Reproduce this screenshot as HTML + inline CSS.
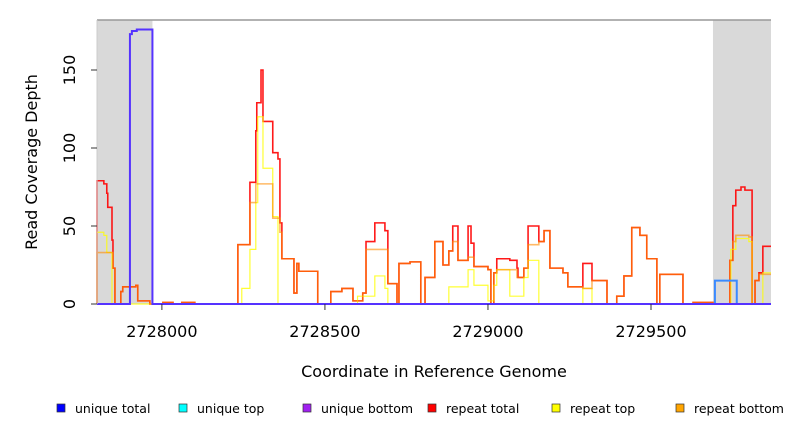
<!DOCTYPE html>
<html><head><meta charset="utf-8"><style>
body{margin:0;background:#fff;font-family:"DejaVu Sans","Liberation Sans",sans-serif;}
svg{display:block}
</style></head><body>
<svg id="chart" width="792" height="432">
<g id="bg"></g>
<g id="series"></g>
<g id="axes"></g>
<text x="37" y="162" font-size="16" text-anchor="middle" transform="rotate(-90 37 162)">Read Coverage Depth</text>
<text x="434" y="377" font-size="16" text-anchor="middle">Coordinate in Reference Genome</text>
<g id="legend"></g>
</svg>
<script>
const xTicks=[2728000,2728500,2729000,2729500];
const yTicks=[0,50,100,150];
const shadedRegions=[[2727801,2727971],[2729690,2729868]];
const repeatTotal=[[2727801,79],[2727822,77],[2727831,71],[2727834,62],[2727847,41],[2727850,23],[2727856,0],[2727874,8],[2727880,11],[2727920,12],[2727926,2],[2727963,0],[2728003,1],[2728034,0],[2728061,1],[2728101,0],[2728233,38],[2728270,78],[2728288,111],[2728291,129],[2728304,150],[2728310,117],[2728340,97],[2728356,93],[2728362,52],[2728368,29],[2728405,7],[2728414,26],[2728420,21],[2728478,0],[2728518,8],[2728552,10],[2728586,2],[2728616,7],[2728626,40],[2728653,52],[2728684,47],[2728693,13],[2728721,0],[2728727,26],[2728761,27],[2728794,0],[2728807,17],[2728837,40],[2728862,25],[2728880,34],[2728892,50],[2728908,28],[2728939,50],[2728948,39],[2728957,24],[2729000,22],[2729009,0],[2729018,20],[2729027,29],[2729067,28],[2729089,23],[2729092,17],[2729110,23],[2729123,50],[2729156,40],[2729172,47],[2729190,23],[2729230,20],[2729245,11],[2729291,26],[2729319,15],[2729365,0],[2729395,5],[2729417,18],[2729441,49],[2729466,44],[2729487,29],[2729518,0],[2729527,19],[2729598,0],[2729629,1],[2729690,0],[2729742,28],[2729751,63],[2729760,73],[2729776,75],[2729788,73],[2729810,0],[2729819,15],[2729831,20],[2729843,37],[2729868,37]];
const repeatBottom=[[2727801,33],[2727850,23],[2727856,0],[2727874,8],[2727880,11],[2727920,12],[2727926,2],[2727963,0],[2728003,1],[2728034,0],[2728061,1],[2728101,0],[2728233,38],[2728250,38],[2728270,65],[2728288,77],[2728310,77],[2728340,55],[2728362,46],[2728368,29],[2728405,7],[2728414,26],[2728420,21],[2728478,0],[2728518,8],[2728552,10],[2728586,2],[2728616,7],[2728626,35],[2728684,35],[2728693,13],[2728721,0],[2728727,26],[2728761,27],[2728794,0],[2728807,17],[2728837,40],[2728862,25],[2728880,34],[2728892,40],[2728908,28],[2728939,30],[2728957,24],[2729000,22],[2729009,0],[2729018,20],[2729027,22],[2729067,22],[2729089,17],[2729110,23],[2729123,38],[2729156,40],[2729172,47],[2729190,23],[2729230,20],[2729245,11],[2729291,10],[2729319,15],[2729365,0],[2729395,5],[2729417,18],[2729441,49],[2729466,44],[2729487,29],[2729518,0],[2729527,19],[2729598,0],[2729629,1],[2729690,0],[2729742,28],[2729751,40],[2729760,44],[2729800,43],[2729810,0],[2729819,15],[2729831,19],[2729868,19]];
const repeatTop=[[2727801,46],[2727822,44],[2727831,33],[2727847,0],[2728245,10],[2728270,35],[2728288,65],[2728294,120],[2728310,87],[2728340,56],[2728356,0],[2728600,5],[2728653,18],[2728684,10],[2728693,0],[2728880,11],[2728939,22],[2728957,12],[2729000,2],[2729018,12],[2729027,22],[2729067,5],[2729110,17],[2729123,28],[2729156,0],[2729291,10],[2729319,0],[2729745,35],[2729760,42],[2729800,40],[2729810,0],[2729843,20],[2729868,20]];
const uniqueTotal=[[2727801,0],[2727902,173],[2727908,175],[2727923,176],[2727971,0],[2729868,0]];
const uniqueBottom=[[2729696,15],[2729763,0]];
const legendLabels=["unique total","unique top","unique bottom","repeat total","repeat top","repeat bottom"];
const legendColors=["#0000ff","#00ffff","#a020f0","#ff0000","#ffff00","#ffa500"];

const NS="http://www.w3.org/2000/svg";
const L=97,R=771,T=20,B=304,xmin=2727801,xmax=2729868;
const X=v=>L+(v-xmin)/(xmax-xmin)*(R-L);
const Y=v=>B-v*1.56;
function mk(tag,attrs,parent){const e=document.createElementNS(NS,tag);for(const k in attrs)e.setAttribute(k,attrs[k]);parent.appendChild(e);return e;}
const bg=document.getElementById('bg'),ser=document.getElementById('series'),ax=document.getElementById('axes'),lg=document.getElementById('legend');
mk('rect',{x:L,y:T,width:R-L,height:B-T,fill:'#fff'},bg);
shadedRegions.forEach(r=>{const e=mk('rect',{x:X(r[0]),y:T,width:X(r[1])-X(r[0]),height:B-T,fill:'#d9d9d9'},bg);

});
function step(data,color,w,op,name){let d='';data.forEach((p,i)=>{const x=X(p[0]),y=Y(p[1]);if(i==0)d+=`M${x},${Y(0)}L${x},${y}`;else{d+=`L${x},${Y(data[i-1][1])}L${x},${y}`;}});
const e=mk('path',{d:d,fill:'none',stroke:color,'stroke-width':w,'stroke-opacity':op},ser);

}
step(repeatTotal,'#ff0000',1.6,0.9,'repeat-total-line');
step(repeatTop,'#ffff00',1.2,0.8,'repeat-top-line');
step(repeatBottom,'#ff8c00',1.6,0.6,'repeat-bottom-line');
step(uniqueBottom,'#3a8aff',2,1,'unique-bottom-line');
step(uniqueTotal,'#5533ff',2,1,'unique-total-line');
mk('path',{d:`M${L},${T}H${R}`,stroke:'#999','stroke-width':1.5},ax);
mk('line',{x1:L,y1:T,x2:L,y2:B,stroke:'#ccc'},ax);
yTicks.forEach(v=>{mk('line',{x1:91,x2:L,y1:Y(v),y2:Y(v),stroke:'#333'},ax);
const t=mk('text',{x:75,y:Y(v),'font-size':16,'text-anchor':'middle',transform:`rotate(-90 75 ${Y(v)})`},ax);t.textContent=v;

});
xTicks.forEach(v=>{mk('line',{x1:X(v),x2:X(v),y1:B,y2:310,stroke:'#333'},ax);
const t=mk('text',{x:X(v),y:337,'font-size':16,'text-anchor':'middle'},ax);t.textContent=v;

});
const lx=[57,179,303,428,552,676];
legendLabels.forEach((s,i)=>{const g=mk('g',{},lg);


mk('rect',{x:lx[i],y:404,width:8,height:8,fill:legendColors[i],stroke:'#333','stroke-width':0.7},g);
const t=mk('text',{x:lx[i]+18,y:413,'font-size':12.5},g);t.textContent=s;});
</script>
</body></html>
